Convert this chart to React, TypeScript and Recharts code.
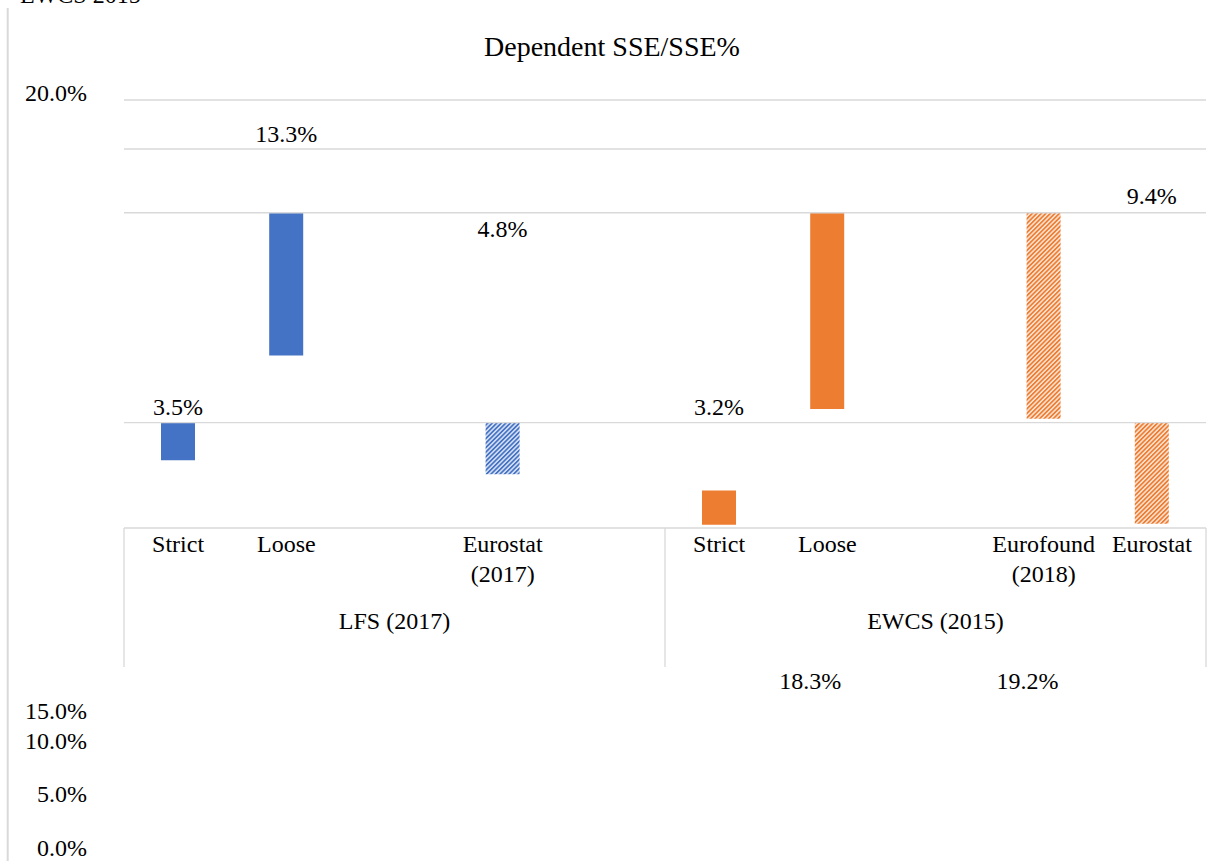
import React from "react";
import { Bar, BarChart, Cell, LabelList, ReferenceLine, XAxis, YAxis } from "recharts";

// categories along the axis; blank ones are the empty slots of the source chart
const categories = ["Strict", "Loose", "", "Eurostat\n(2017)", "", "Strict", "Loose", "", "Eurofound\n(2018)", "Eurostat"];
const surveyOf = [
  "LFS (2017)", "LFS (2017)", "LFS (2017)", "LFS (2017)", "LFS (2017)",
  "EWCS (2015)", "EWCS (2015)", "EWCS (2015)", "EWCS (2015)", "EWCS (2015)",
];
const surveys = ["LFS (2017)", "EWCS (2015)"];
// dependent SSE share, %
const shares = [3.5, 13.3, null, 4.8, null, 3.2, 18.3, null, 19.2, 9.4];
// the bars float in the source picture: lower end of each one, in share points
const floors = [6.02, 15.79, null, 4.72, null, 0, 10.79, null, 9.89, 0.1];
const gridLevels = [9.52, 29.09, 35.03, 39.6];
const pctTicks = [0, 5, 10, 15, 20];

const rows = categories.map((cat, i) => ({
  cat,
  survey: surveyOf[i],
  share: shares[i],
  range: shares[i] == null ? null : [floors[i] as number, (floors[i] as number) + (shares[i] as number)],
}));
// LabelList counts only the bars that are drawn
const drawnRows = shares.map((s, i) => (s == null ? -1 : i)).filter((i) => i >= 0);

// layout
const W = 1213;
const H = 861;
const PLOT_LEFT = 124;
const PLOT_RIGHT = 1206;
const PLOT_TOP = 100;
const CAT_H = 80;
const GROUP_H = 60;
const BOTTOM_M = 193;
const GRID = "#D9D9D9";
const BLUE = "#4472C4";
const ORANGE = "#ED7D31";
const FONT = "'Liberation Serif', 'Times New Roman', serif";

// where the displaced value labels sit, relative to the top of their bar
const LABEL_SHIFT: Record<number, [number, number]> = {
  0: [0, -7.7],
  1: [0, -71],
  3: [0, -185.7],
  5: [0, -75.5],
  6: [-17, 476.3],
  8: [-16, 476.3],
  9: [0, -219],
};
// baselines of the left axis labels as they land in the source picture
const PCT_BASELINE: Record<number, number> = { 20: 101, 15: 719, 10: 749, 5: 802, 0: 855.7 };

const fillFor = (i: number) => {
  const hatched = categories[i].startsWith("Euro");
  const lfs = surveyOf[i] === surveys[0];
  if (hatched) return lfs ? "url(#hatchBlue)" : "url(#hatchOrange)";
  return lfs ? BLUE : ORANGE;
};

function PctTick(props: any) {
  const { x, payload } = props;
  const tx = Number.isFinite(Number(x)) ? Number(x) : PLOT_LEFT - 37;
  return (
    <text x={tx} y={PCT_BASELINE[payload.value]} textAnchor="end" fontSize={24} fill="#000" fontFamily={FONT}>
      {`${Number(payload.value).toFixed(1)}%`}
    </text>
  );
}

function CatTick(props: any) {
  const { x, y, payload } = props;
  const lines = String(payload.value).split("\n");
  return (
    <text x={x} y={y + 23.7} textAnchor="middle" fontSize={24} fill="#000" fontFamily={FONT}>
      {lines.map((l, k) => (
        <tspan key={k} x={x} dy={k === 0 ? 0 : 30}>
          {l}
        </tspan>
      ))}
    </text>
  );
}

function GroupTick(props: any) {
  const { x, y, payload } = props;
  const half = (PLOT_RIGHT - PLOT_LEFT) / surveys.length / 2;
  const last = payload.value === surveys[surveys.length - 1];
  return (
    <g>
      <line x1={x - half} x2={x - half} y1={y - CAT_H} y2={y + 59} stroke={GRID} strokeWidth={1.3} />
      {last && <line x1={x + half} x2={x + half} y1={y - CAT_H} y2={y + 59} stroke={GRID} strokeWidth={1.3} />}
      <text x={x} y={y + 21} textAnchor="middle" fontSize={24} fill="#000" fontFamily={FONT}>
        {payload.value}
      </text>
    </g>
  );
}

function ShareLabel(props: any) {
  const { x, y, width, height, value, index } = props;
  const row = drawnRows[index];
  if (value == null || row == null || !LABEL_SHIFT[row]) return null;
  const [dx, dy] = LABEL_SHIFT[row];
  const top = Math.min(Number(y), Number(y) + Number(height));
  return (
    <text x={Number(x) + Number(width) / 2 + dx} y={top + dy} textAnchor="middle" fontSize={24} fill="#000" fontFamily={FONT}>
      {`${Number(value).toFixed(1)}%`}
    </text>
  );
}

export default function App() {
  return (
    <div style={{ position: "absolute", left: 0, top: 0, width: W, height: H, background: "#fff", overflow: "hidden", fontFamily: FONT }}>
      <BarChart
        width={W}
        height={H}
        data={rows}
        margin={{ top: PLOT_TOP, right: W - PLOT_RIGHT, bottom: BOTTOM_M, left: 0 }}
      >
        <defs>
          <pattern id="hatchOrange" width={3.2} height={3.2} patternUnits="userSpaceOnUse" patternTransform="rotate(45)">
            <rect width={3.2} height={3.2} fill="#FCE4D6" />
            <rect width={1.7} height={3.2} fill={ORANGE} />
          </pattern>
          <pattern id="hatchBlue" width={3.2} height={3.2} patternUnits="userSpaceOnUse" patternTransform="rotate(45)">
            <rect width={3.2} height={3.2} fill="#DAE3F3" />
            <rect width={1.7} height={3.2} fill={BLUE} />
          </pattern>
        </defs>
        <YAxis
          yAxisId="v"
          type="number"
          domain={[-0.3, 39.6]}
          ticks={pctTicks}
          allowDataOverflow
          width={PLOT_LEFT}
          axisLine={false}
          tickLine={false}
          tickSize={0}
          tickMargin={37}
          tick={(p: any) => <PctTick {...p} />}
        />
        {gridLevels.map((g) => (
          <ReferenceLine key={g} yAxisId="v" xAxisId="cat" y={g} stroke={GRID} strokeWidth={1.3} ifOverflow="extendDomain" />
        ))}
        <XAxis
          xAxisId="cat"
          dataKey="cat"
          height={CAT_H}
          interval={0}
          tickLine={false}
          tickSize={0}
          tickMargin={0}
          axisLine={{ stroke: GRID, strokeWidth: 1.3 }}
          tick={(p: any) => <CatTick {...p} />}
        />
        <XAxis
          xAxisId="grp"
          dataKey="survey"
          allowDuplicatedCategory={false}
          height={GROUP_H}
          interval={0}
          tickLine={false}
          tickSize={0}
          tickMargin={0}
          axisLine={false}
          tick={(p: any) => <GroupTick {...p} />}
        />
        <Bar xAxisId="cat" yAxisId="v" dataKey="range" barSize={34} isAnimationActive={false}>
          {rows.map((_, i) => (
            <Cell key={i} fill={fillFor(i)} />
          ))}
          <LabelList dataKey="share" content={(p: any) => <ShareLabel {...p} />} />
        </Bar>
      </BarChart>
      <svg width={W} height={H} style={{ position: "absolute", left: 0, top: 0, pointerEvents: "none" }}>
        <text x={20} y={3} fontSize={24} fill="#000" fontFamily={FONT}>
          EWCS 2015
        </text>
        <line x1={7.7} x2={7.7} y1={8} y2={H} stroke={GRID} strokeWidth={2} />
        <text x={612} y={55.7} textAnchor="middle" fontSize={28} fill="#000" fontFamily={FONT}>
          Dependent SSE/SSE%
        </text>
      </svg>
    </div>
  );
}
